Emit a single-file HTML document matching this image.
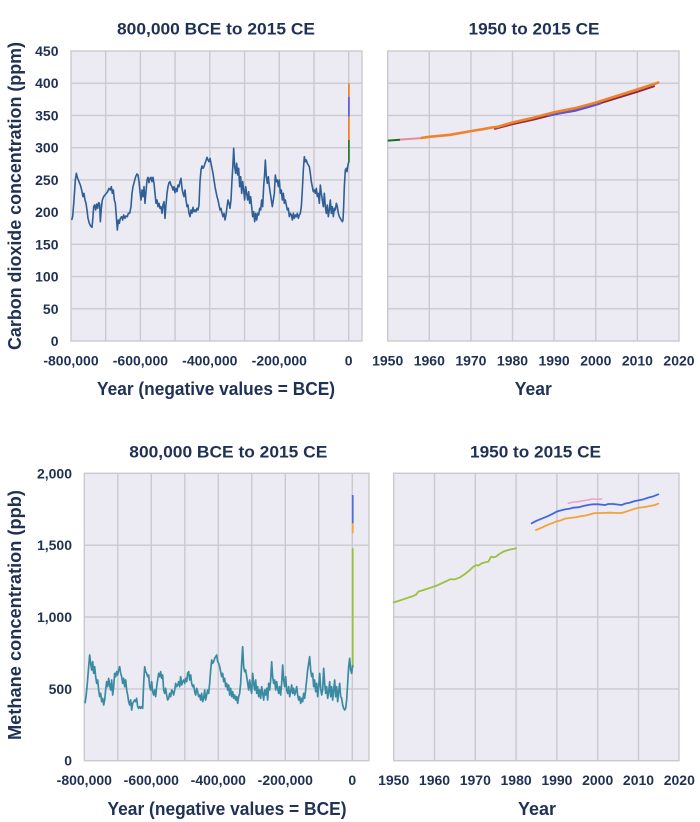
<!DOCTYPE html>
<html>
<head>
<meta charset="utf-8">
<style>
html,body{margin:0;padding:0;background:#ffffff;}
svg{display:block;}
text{font-family:"Liberation Sans",Arial,sans-serif;font-weight:bold;fill:#1f3154;}
.grid line{stroke:#c9c9cf;stroke-width:1.4;}
.tk{font-size:14px;}
.ttl{font-size:17px;}
.ax{font-size:18px;}
</style>
</head>
<body>
<svg width="700" height="822" viewBox="0 0 700 822" xmlns="http://www.w3.org/2000/svg">

<!-- ============ TOP LEFT ============ -->
<rect x="71" y="51" width="291" height="290" fill="#ecebf3" stroke="#c9c9cf" stroke-width="1.4"/>
<g class="grid">
<line x1="71" y1="83.2" x2="362" y2="83.2"/>
<line x1="71" y1="115.4" x2="362" y2="115.4"/>
<line x1="71" y1="147.7" x2="362" y2="147.7"/>
<line x1="71" y1="179.9" x2="362" y2="179.9"/>
<line x1="71" y1="212.1" x2="362" y2="212.1"/>
<line x1="71" y1="244.3" x2="362" y2="244.3"/>
<line x1="71" y1="276.6" x2="362" y2="276.6"/>
<line x1="71" y1="308.8" x2="362" y2="308.8"/>
<line x1="105.7" y1="51" x2="105.7" y2="341"/>
<line x1="140.4" y1="51" x2="140.4" y2="341"/>
<line x1="175.1" y1="51" x2="175.1" y2="341"/>
<line x1="209.8" y1="51" x2="209.8" y2="341"/>
<line x1="244.6" y1="51" x2="244.6" y2="341"/>
<line x1="279.3" y1="51" x2="279.3" y2="341"/>
<line x1="314" y1="51" x2="314" y2="341"/>
<line x1="348.7" y1="51" x2="348.7" y2="341"/>
</g>
<g transform="scale(0.33333)">
<polyline fill="none" stroke="#2f5f96" stroke-width="1.6" vector-effect="non-scaling-stroke" stroke-linejoin="round"
points="215,660 218,650 222,600 226,540 229,520 233,535 237,545 241,555 245,570 249,590 252,580 255,600 258,610 261,630 264,655 268,670 272,678 276,682 279,650 281,620 284,615 287,630 290,612 293,625 296,608 299,612 301,665 304,625 307,600 311,590 315,585 319,580 323,575 327,565 331,570 334,560 337,580 340,570 343,600 346,610 349,650 352,690 355,660 358,670 361,655 365,650 368,660 371,645 375,655 378,648 382,650 385,640 389,640 393,620 396,580 399,560 403,545 407,530 411,522 414,525 417,545 420,575 423,600 426,570 429,590 432,560 435,610 438,575 441,540 444,532 447,548 450,535 453,532 456,545 459,532 462,550 465,580 468,610 471,600 474,620 477,610 480,625 483,620 486,640 489,615 492,605 495,655 498,615 501,580 504,560 507,548 510,545 513,555 516,560 519,570 522,560 525,578 528,565 531,575 534,555 537,560 540,545 543,535 546,565 549,580 552,590 555,570 558,600 561,620 564,615 567,640 570,650 573,630 576,640 579,622 582,635 585,630 588,635 591,625 594,630 597,615 600,545 603,510 606,498 609,505 612,500 615,490 618,482 621,472 624,480 627,485 630,475 633,490 636,505 639,520 642,540 645,560 648,575 651,590 654,600 657,615 660,630 663,625 666,640 669,650 672,640 675,660 678,645 681,620 684,600 687,610 690,625 693,600 696,540 699,490 701,445 704,500 707,520 710,490 713,525 716,505 719,560 722,530 725,580 728,545 731,570 734,600 737,560 740,580 743,600 746,575 749,610 752,590 755,620 758,650 761,635 764,665 767,640 770,660 773,640 776,645 779,625 782,630 785,600 788,620 791,560 794,520 796,480 799,530 802,550 805,530 808,560 811,580 814,600 817,620 820,600 823,580 826,525 829,545 832,540 835,560 838,540 841,580 844,570 847,600 850,580 853,610 856,600 859,615 862,630 865,625 868,650 871,640 874,645 877,660 880,640 883,655 886,645 889,650 892,640 895,655 898,645 901,640 904,620 907,570 910,510 913,470 916,485 919,480 922,490 925,495 928,500 931,520 934,545 937,560 940,575 943,570 946,580 949,565 952,590 955,580 958,610 961,555 964,580 967,600 970,620 973,580 976,620 979,640 982,615 985,650 988,630 991,600 994,640 997,620 1000,650 1003,625 1006,630 1009,610 1012,620 1015,640 1018,650 1021,655 1024,660 1027,665 1029,660 1031,620 1033,560 1036,510 1039,505 1041,515 1043,500 1045,490 1047,485"/>
</g>
<line x1="348.9" y1="162" x2="348.9" y2="140" stroke="#2f7a35" stroke-width="1.8"/>
<line x1="348.9" y1="140" x2="348.9" y2="116.7" stroke="#f0822a" stroke-width="1.8"/>
<line x1="348.9" y1="116.7" x2="348.9" y2="96.7" stroke="#6a5bd0" stroke-width="1.8"/>
<line x1="348.9" y1="96.7" x2="348.9" y2="83.3" stroke="#f0822a" stroke-width="1.8"/>

<g class="tk" text-anchor="end">
<text x="58.5" y="56">450</text>
<text x="58.5" y="88.2">400</text>
<text x="58.5" y="120.4">350</text>
<text x="58.5" y="152.7">300</text>
<text x="58.5" y="184.9">250</text>
<text x="58.5" y="217.1">200</text>
<text x="58.5" y="249.3">150</text>
<text x="58.5" y="281.6">100</text>
<text x="58.5" y="313.8">50</text>
<text x="58.5" y="346">0</text>
</g>
<g class="tk" text-anchor="middle">
<text x="71" y="365.5">-800,000</text>
<text x="140.4" y="365.5">-600,000</text>
<text x="209.8" y="365.5">-400,000</text>
<text x="279.3" y="365.5">-200,000</text>
<text x="348.7" y="365.5">0</text>
</g>
<text class="ttl" x="216" y="34.5" text-anchor="middle" textLength="198" lengthAdjust="spacingAndGlyphs">800,000 BCE to 2015 CE</text>
<text class="ax" x="216" y="395" text-anchor="middle" textLength="238" lengthAdjust="spacingAndGlyphs">Year (negative values = BCE)</text>
<text class="ax" transform="translate(20.8,196) rotate(-90)" text-anchor="middle" textLength="308" lengthAdjust="spacingAndGlyphs">Carbon dioxide concentration (ppm)</text>

<!-- ============ TOP RIGHT ============ -->
<rect x="387.7" y="51" width="291.3" height="290" fill="#ecebf3" stroke="#c9c9cf" stroke-width="1.4"/>
<g class="grid">
<line x1="387.7" y1="83.2" x2="679" y2="83.2"/>
<line x1="387.7" y1="115.4" x2="679" y2="115.4"/>
<line x1="387.7" y1="147.7" x2="679" y2="147.7"/>
<line x1="387.7" y1="179.9" x2="679" y2="179.9"/>
<line x1="387.7" y1="212.1" x2="679" y2="212.1"/>
<line x1="387.7" y1="244.3" x2="679" y2="244.3"/>
<line x1="387.7" y1="276.6" x2="679" y2="276.6"/>
<line x1="387.7" y1="308.8" x2="679" y2="308.8"/>
<line x1="429.3" y1="51" x2="429.3" y2="341"/>
<line x1="470.9" y1="51" x2="470.9" y2="341"/>
<line x1="512.5" y1="51" x2="512.5" y2="341"/>
<line x1="554.1" y1="51" x2="554.1" y2="341"/>
<line x1="595.8" y1="51" x2="595.8" y2="341"/>
<line x1="637.4" y1="51" x2="637.4" y2="341"/>
</g>
<polyline fill="none" stroke="#8b2c45" stroke-width="2" stroke-linecap="round"
points="495,128.8 512.5,124.2 533.3,119.6 554.1,114.4 574.9,110.2 595.8,104.6 616.6,98.2 637.4,91.8 654,86.3"/>
<polyline fill="none" stroke="#5a55d8" stroke-width="2.2" stroke-linecap="round"
points="548,115.8 560,113.3 574.9,110.8 590,106.6 600,103.6"/>
<polyline fill="none" stroke="#f0822a" stroke-width="2.6" stroke-linecap="round" stroke-linejoin="round"
points="421,138 429.3,136.8 450.1,134.8 470.9,131.1 485,128.8 491.7,127.5 498,126.8 512.5,122.5 533.3,117.8 554.1,112.3 574.9,108.2 595.8,102.6 616.6,96 637.4,89.4 658.2,82.6"/>
<polyline fill="none" stroke="#e58c9c" stroke-width="2" points="400,139.6 421,138.1"/>
<polyline fill="none" stroke="#1f6b2c" stroke-width="2" points="387.7,140.6 400,139.8"/>

<g class="tk" text-anchor="middle">
<text x="387.7" y="365.5">1950</text>
<text x="429.3" y="365.5">1960</text>
<text x="470.9" y="365.5">1970</text>
<text x="512.5" y="365.5">1980</text>
<text x="554.1" y="365.5">1990</text>
<text x="595.8" y="365.5">2000</text>
<text x="637.4" y="365.5">2010</text>
<text x="679" y="365.5">2020</text>
</g>
<text class="ttl" x="534" y="34.5" text-anchor="middle" textLength="131" lengthAdjust="spacingAndGlyphs">1950 to 2015 CE</text>
<text class="ax" x="533.3" y="395" text-anchor="middle" textLength="37" lengthAdjust="spacingAndGlyphs">Year</text>

<!-- ============ BOTTOM LEFT ============ -->
<rect x="84.3" y="473.3" width="284.7" height="287.4" fill="#ecebf3" stroke="#c9c9cf" stroke-width="1.4"/>
<g class="grid">
<line x1="84.3" y1="545.2" x2="369" y2="545.2"/>
<line x1="84.3" y1="617" x2="369" y2="617"/>
<line x1="84.3" y1="688.9" x2="369" y2="688.9"/>
<line x1="117.8" y1="473.3" x2="117.8" y2="760.7"/>
<line x1="151.3" y1="473.3" x2="151.3" y2="760.7"/>
<line x1="184.8" y1="473.3" x2="184.8" y2="760.7"/>
<line x1="218.3" y1="473.3" x2="218.3" y2="760.7"/>
<line x1="251.8" y1="473.3" x2="251.8" y2="760.7"/>
<line x1="285.3" y1="473.3" x2="285.3" y2="760.7"/>
<line x1="318.8" y1="473.3" x2="318.8" y2="760.7"/>
<line x1="352.3" y1="473.3" x2="352.3" y2="760.7"/>
</g>
<line x1="352.7" y1="668" x2="352.7" y2="548.3" stroke="#98c23c" stroke-width="1.8"/>
<line x1="352.7" y1="533.3" x2="352.7" y2="523.3" stroke="#f3a43a" stroke-width="1.8"/>
<line x1="352.7" y1="523.3" x2="352.7" y2="495" stroke="#4f6fd8" stroke-width="1.8"/>
<g transform="translate(80,640) scale(0.33333)">
<polyline fill="none" stroke="#3a8ba2" stroke-width="1.7" vector-effect="non-scaling-stroke" stroke-linejoin="round"
points="15,190 18,170 22,130 26,80 29,45 32,70 35,90 38,65 41,100 44,80 47,110 50,130 53,120 56,150 59,170 62,160 65,185 68,175 71,195 74,180 77,150 80,125 83,140 86,115 89,135 92,150 95,120 98,165 101,140 104,100 107,110 110,95 113,105 116,90 119,80 122,100 125,110 128,130 131,115 134,140 137,120 140,150 143,165 146,185 149,195 152,180 155,210 158,190 161,185 164,180 167,185 170,175 173,200 176,205 179,200 182,205 185,200 188,205 191,130 194,80 197,95 200,100 203,110 206,105 209,140 212,150 215,125 218,155 221,165 224,150 227,170 230,140 233,120 236,100 239,110 242,95 245,115 248,105 251,150 254,160 257,145 260,165 263,180 266,175 269,160 272,170 275,150 278,155 281,165 284,150 287,130 290,140 293,135 296,125 299,140 302,110 305,135 308,125 311,120 314,130 317,115 320,125 323,100 326,95 329,120 332,105 335,130 338,140 341,135 344,155 347,165 350,145 353,155 356,170 359,165 362,180 365,160 368,185 371,175 374,150 377,180 380,165 383,150 386,160 389,130 392,90 395,60 398,70 401,65 404,55 407,50 410,45 413,65 416,70 419,80 422,95 425,110 428,100 431,125 434,115 437,140 440,130 443,150 446,135 449,165 452,145 455,170 458,155 461,175 464,165 467,180 470,170 473,190 476,170 479,160 482,130 485,70 488,20 491,80 494,95 497,90 500,110 503,130 506,150 509,120 512,145 515,160 518,100 521,130 524,150 527,120 530,160 533,140 536,170 539,150 542,175 545,140 548,160 551,180 554,150 557,165 560,145 563,180 566,130 569,150 572,120 575,65 578,110 581,130 584,120 587,150 590,125 593,145 596,160 599,140 602,165 605,130 608,75 611,120 614,140 617,110 620,150 623,160 626,140 629,170 632,155 635,135 638,160 641,145 644,165 647,155 650,140 653,165 656,180 659,170 662,190 665,175 668,185 671,160 674,175 677,150 680,120 683,90 686,70 689,50 692,90 695,110 698,100 701,140 704,120 707,155 710,130 713,170 716,140 719,100 722,145 725,165 728,150 731,85 734,130 737,160 740,140 743,175 746,155 749,125 752,170 755,140 758,180 761,150 764,120 767,170 770,140 773,185 776,155 779,130 782,170 785,175 788,195 791,205 794,210 797,205 800,180 803,130 806,80 809,55 812,90 815,100 818,75"/>
</g>

<g class="tk" text-anchor="end">
<text x="72" y="478.3">2,000</text>
<text x="72" y="550.2">1,500</text>
<text x="72" y="622">1,000</text>
<text x="72" y="693.9">500</text>
<text x="72" y="765.7">0</text>
</g>
<g class="tk" text-anchor="middle">
<text x="84.3" y="785">-800,000</text>
<text x="151.3" y="785">-600,000</text>
<text x="218.3" y="785">-400,000</text>
<text x="285.3" y="785">-200,000</text>
<text x="352.3" y="785">0</text>
</g>
<text class="ttl" x="228.3" y="457.5" text-anchor="middle" textLength="198" lengthAdjust="spacingAndGlyphs">800,000 BCE to 2015 CE</text>
<text class="ax" x="227" y="815" text-anchor="middle" textLength="239" lengthAdjust="spacingAndGlyphs">Year (negative values = BCE)</text>
<text class="ax" transform="translate(20.8,615) rotate(-90)" text-anchor="middle" textLength="250" lengthAdjust="spacingAndGlyphs">Methane concentration (ppb)</text>

<!-- ============ BOTTOM RIGHT ============ -->
<rect x="393.7" y="473.3" width="285.3" height="287.4" fill="#ecebf3" stroke="#c9c9cf" stroke-width="1.4"/>
<g class="grid">
<line x1="393.7" y1="545.2" x2="679" y2="545.2"/>
<line x1="393.7" y1="617" x2="679" y2="617"/>
<line x1="393.7" y1="688.9" x2="679" y2="688.9"/>
<line x1="434.5" y1="473.3" x2="434.5" y2="760.7"/>
<line x1="475.3" y1="473.3" x2="475.3" y2="760.7"/>
<line x1="516.1" y1="473.3" x2="516.1" y2="760.7"/>
<line x1="556.9" y1="473.3" x2="556.9" y2="760.7"/>
<line x1="597.7" y1="473.3" x2="597.7" y2="760.7"/>
<line x1="638.5" y1="473.3" x2="638.5" y2="760.7"/>
</g>
<g transform="translate(360,420) scale(0.33333)" fill="none" stroke-linejoin="round" stroke-linecap="round">
<polyline stroke="#9cc13c" stroke-width="1.8" vector-effect="non-scaling-stroke"
points="101,547 115,543 130,538 145,533 160,528 168,524 175,515 185,512 200,507 215,502 230,497 245,490 260,483 270,478 285,478 300,472 315,462 330,450 340,440 350,435 355,437 365,430 375,427 385,425 393,410 400,412 408,410 418,402 430,395 445,390 458,387 468,385"/>
<polyline stroke="#4366dc" stroke-width="1.8" vector-effect="non-scaling-stroke"
points="515,310 530,302 545,296 560,290 575,283 590,275 600,272 615,268 630,266 640,263 655,262 670,258 690,254 700,253 715,253 735,255 745,252 760,252 775,254 785,255 795,251 810,248 825,243 835,241 850,238 865,233 880,229 895,223"/>
<polyline stroke="#f5a038" stroke-width="1.8" vector-effect="non-scaling-stroke"
points="528,330 545,323 560,316 575,310 590,304 600,302 615,296 630,294 645,292 660,289 675,287 690,283 700,280 715,279 730,279 750,278 770,279 785,279 795,276 810,271 825,266 840,263 855,261 870,258 885,255 895,251"/>
<polyline stroke="#f0a2c8" stroke-width="1.6" vector-effect="non-scaling-stroke"
points="625,250 640,246 655,245 670,242 685,240 695,237 710,238 725,237"/>
</g>

<g class="tk" text-anchor="middle">
<text x="393.7" y="785">1950</text>
<text x="434.5" y="785">1960</text>
<text x="475.3" y="785">1970</text>
<text x="516.1" y="785">1980</text>
<text x="556.9" y="785">1990</text>
<text x="597.7" y="785">2000</text>
<text x="638.5" y="785">2010</text>
<text x="679.3" y="785">2020</text>
</g>
<text class="ttl" x="535.5" y="457.5" text-anchor="middle" textLength="131" lengthAdjust="spacingAndGlyphs">1950 to 2015 CE</text>
<text class="ax" x="537" y="815" text-anchor="middle" textLength="38" lengthAdjust="spacingAndGlyphs">Year</text>

</svg>
</body>
</html>
